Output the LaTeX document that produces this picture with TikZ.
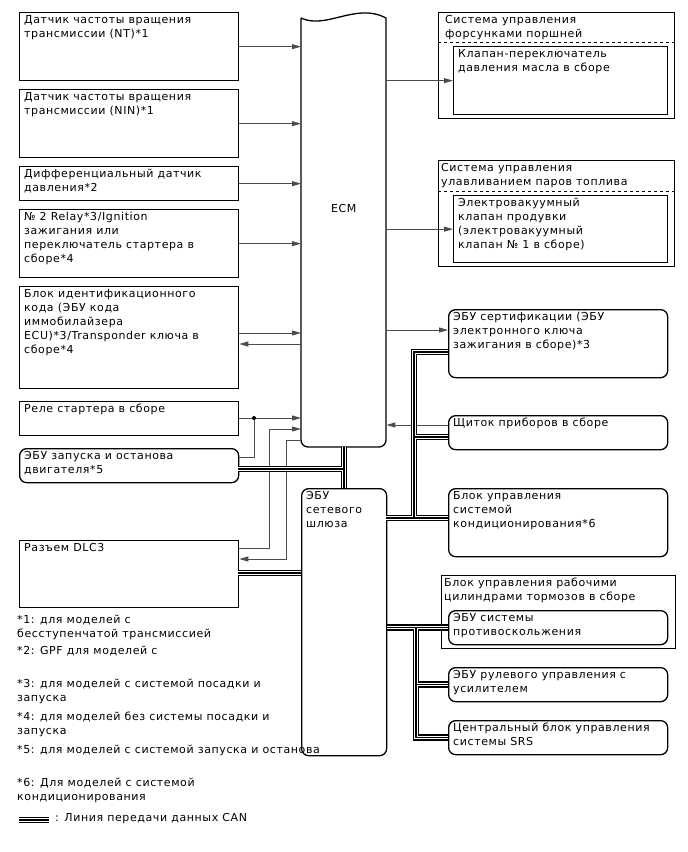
\documentclass[tikz,border=0pt]{standalone}
\usepackage{fontspec}
\setmainfont{DejaVu Sans}[LetterSpace=5.5]
\usetikzlibrary{arrows.meta,calc}

\newcommand{\diagfont}{\fontsize{11}{14}\selectfont}

\tikzset{
  unit/.style={draw, line width=1.3pt, anchor=north west, inner sep=0pt},
  runit/.style={unit, rounded corners=7pt},
  lbl/.style={anchor=north west, align=left, inner sep=0pt, font=\diagfont,
    xshift=5pt, yshift=-3pt},
  note/.style={anchor=north west, align=left, inner sep=0pt, font=\diagfont},
  sig/.style={line width=0.9pt, draw=black!70},
  arr/.style={sig, -{Triangle[length=9pt,width=5pt]}},
  canout/.style={line width=6.5pt, black},
  canmid/.style={line width=3.6pt, white},
  cancore/.style={line width=1.2pt, black},
}

% CAN bus routes, drawn in three passes
\newcommand{\canroutes}[1]{%
  \draw[#1] (ecm.south -| bA) -- (gw.north -| bA);
  \draw[#1] (engcan) -- (engcan -| bA);
  \draw[#1] (dlccan) -- (dlccan -| gw.west);
  \draw[#1] (acgw) -- (acgw -| ac.west);
  \draw[#1] (acgw -| bR) |- (certcan);
  \draw[#1] (dashcan -| bR) -- (dashcan);
  \draw[#1] (gw.east |- abs) -- (abs.west);
  \draw[#1] (abs -| bL) |- (srs.west);
  \draw[#1] (eps.west -| bL) -- (eps.west);
  \draw[#1] (lg1) -- (lg2);
}

\begin{document}
\begin{tikzpicture}[x=1pt, y=-1pt]
  \useasboundingbox (0,0) rectangle (688,852);

  % left column
  \node[unit, minimum width=219pt, minimum height=68pt,
    label={[lbl]north west:Датчик частоты вращения\\трансмиссии (NT)*1}] (nt) at (19,12) {};
  \node[unit, minimum width=219pt, minimum height=68pt,
    label={[lbl]north west:Датчик частоты вращения\\трансмиссии (NIN)*1}] (nin) at (19,89) {};
  \node[unit, minimum width=219pt, minimum height=34pt,
    label={[lbl]north west:Дифференциальный датчик\\давления*2}] (dps) at (19,166) {};
  \node[unit, minimum width=219pt, minimum height=68pt,
    label={[lbl]north west:№ 2 Relay*3/Ignition\\зажигания или\\переключатель стартера в\\сборе*4}] (ign) at (19,209) {};
  \node[unit, minimum width=219pt, minimum height=102pt,
    label={[lbl]north west:Блок идентификационного\\кода (ЭБУ кода\\иммобилайзера\\ECU)*3/Transponder ключа в\\сборе*4}] (idb) at (19,286) {};
  \node[unit, minimum width=219pt, minimum height=34pt,
    label={[lbl]north west:Реле стартера в сборе}] (str) at (19,401) {};
  \node[runit, minimum width=219pt, minimum height=34pt,
    label={[lbl]north west:ЭБУ запуска и останова\\двигателя*5}] (eng) at (19,448) {};
  \node[unit, minimum width=219pt, minimum height=67pt,
    label={[lbl]north west:Разъем DLC3}] (dlc) at (19,540) {};

  % ECM and gateway
  \node[anchor=north west, inner sep=0pt, minimum width=85pt, minimum height=435pt] (ecm) at (301,12) {};
  \draw[line width=1.3pt] (301,18) .. controls (326,30) and (356,2) .. (386,18)
    [rounded corners=7pt] -- (386,447) -- (301,447) [sharp corners] -- (301,18);
  \node[font=\diagfont] at (ecm.center |- 0,208) {ECM};
  \node[runit, minimum width=85pt, minimum height=267pt,
    label={[lbl]north west:ЭБУ\\сетевого\\шлюза}] (gw) at (301,488) {};

  % right column
  \node[unit, minimum width=236pt, minimum height=106pt,
    label={[lbl, xshift=2pt]north west:Система управления\\форсунками поршней}] (pjs) at (438,12) {};
  \draw[dashed, line width=0.6pt] (pjs.west |- 0,42) -- (pjs.east |- 0,42);
  \node[unit, minimum width=214pt, minimum height=68pt,
    label={[lbl]north west:Клапан-переключатель\\давления масла в сборе}] (ocv) at (453,46) {};
  \node[unit, minimum width=236pt, minimum height=106pt,
    label={[lbl, xshift=-2pt]north west:Система управления\\улавливанием паров топлива}] (evs) at (438,160) {};
  \draw[dashed, line width=0.6pt] (evs.west |- 0,191) -- (evs.east |- 0,191);
  \node[unit, minimum width=214pt, minimum height=67pt,
    label={[lbl]north west:Электровакуумный\\клапан продувки\\(электровакуумный\\клапан № 1 в сборе)}] (vsv) at (453,195) {};
  \node[runit, minimum width=219pt, minimum height=68pt,
    label={[lbl]north west:ЭБУ сертификации (ЭБУ\\электронного ключа\\зажигания в сборе)*3}] (cert) at (448,309) {};
  \node[runit, minimum width=219pt, minimum height=34pt,
    label={[lbl]north west:Щиток приборов в сборе}] (dash) at (448,415) {};
  \node[runit, minimum width=219pt, minimum height=68pt,
    label={[lbl]north west:Блок управления\\системой\\кондиционирования*6}] (ac) at (448,488) {};
  \node[unit, minimum width=234pt, minimum height=73pt,
    label={[lbl, xshift=-2pt]north west:Блок управления рабочими\\цилиндрами тормозов в сборе}] (brk) at (441,575) {};
  \node[runit, minimum width=219pt, minimum height=34pt,
    label={[lbl]north west:ЭБУ системы\\противоскольжения}] (abs) at (448,610) {};
  \node[runit, minimum width=219pt, minimum height=34pt,
    label={[lbl]north west:ЭБУ рулевого управления с\\усилителем}] (eps) at (448,667) {};
  \node[runit, minimum width=219pt, minimum height=34pt,
    label={[lbl]north west:Центральный блок управления\\системы SRS}] (srs) at (448,720) {};

  % signal lines
  \draw[arr] (nt.east) -- (nt.east -| ecm.west);
  \draw[arr] (nin.east) -- (nin.east -| ecm.west);
  \draw[arr] (dps.east) -- (dps.east -| ecm.west);
  \draw[arr] (ign.east) -- (ign.east -| ecm.west);
  \draw[arr] (idb.east |- 0,333) -- (ecm.west |- 0,333);
  \draw[arr] (ecm.west |- 0,344) -- (idb.east |- 0,344);
  \draw[arr] (str.east |- 0,418) -- (ecm.west |- 0,418);
  \coordinate (jn) at (254,418);
  \draw[sig] (eng.east |- 0,457) -| (jn);
  \fill (jn) circle (2pt);
  \draw[arr] (dlc.east |- 0,548) -| (269,429) -- (ecm.west |- 0,429);
  \draw[arr] (ecm.west |- 0,440) -| (286,559) -- (dlc.east |- 0,559);
  \draw[arr] (ecm.east |- ocv) -- (ocv.west);
  \draw[arr] (ecm.east |- vsv) -- (vsv.west);
  \draw[arr] (ecm.east |- 0,330) -- (cert.west |- 0,330);
  \draw[arr] (dash.west |- 0,425) -- (ecm.east |- 0,425);

  % CAN lines
  \coordinate (bA) at (344,0);
  \coordinate (bR) at (414,0);
  \coordinate (bL) at (416,0);
  \coordinate (engcan) at (238,469);
  \coordinate (dlccan) at (238,573);
  \coordinate (acgw) at (386,518);
  \coordinate (certcan) at (448,352);
  \coordinate (dashcan) at (448,437);
  \coordinate (lg1) at (19,820);
  \coordinate (lg2) at (49,820);
  \canroutes{canout}
  \canroutes{canmid}
  \canroutes{cancore}

  % notes
  \node[note] (fn1) at (17,615) {*1: для моделей с\\бесступенчатой трансмиссией};
  \node[note] (fn2) at (17,646) {*2: GPF для моделей с};
  \node[note] (fn3) at (17,679) {*3: для моделей с системой посадки и\\запуска};
  \node[note] (fn4) at (17,712) {*4: для моделей без системы посадки и\\запуска};
  \node[note] (fn5) at (17,745) {*5: для моделей с системой запуска и останова};
  \node[note] (fn6) at (17,778) {*6: Для моделей с системой\\кондиционирования};
  \node[note, anchor=west] (lgt) at (55,819) {: Линия передачи данных CAN};
\end{tikzpicture}
\end{document}
